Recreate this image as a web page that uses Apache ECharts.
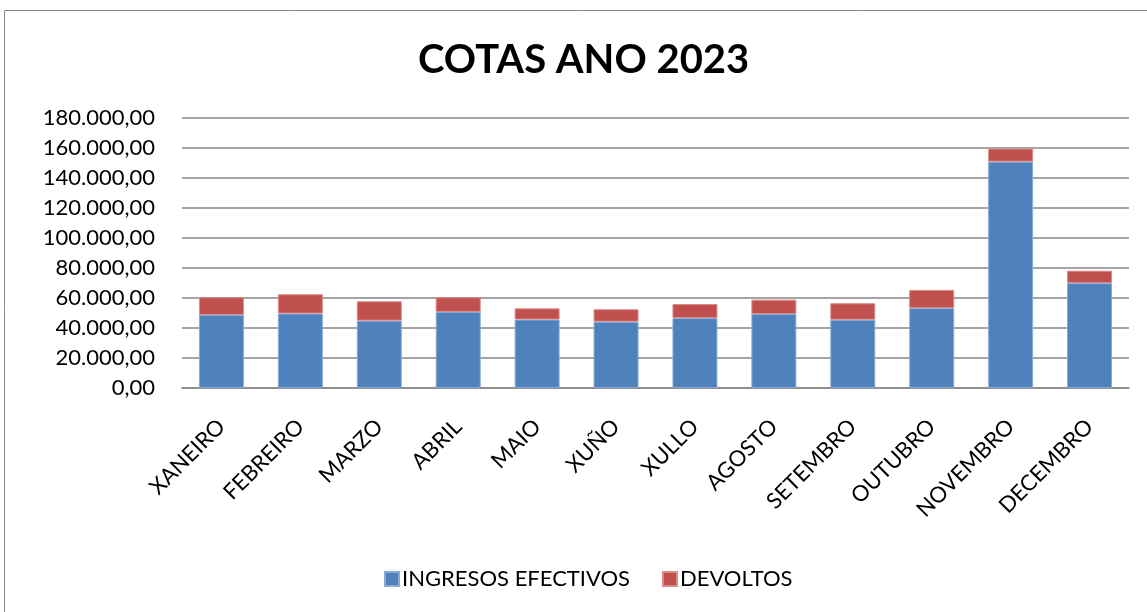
<!DOCTYPE html>
<html>
<head>
<meta charset="utf-8">
<script src="https://cdn.jsdelivr.net/npm/echarts@6/dist/echarts.min.js"></script>
<style>
html,body{margin:0;padding:0;background:#fff;}
#c{width:1147px;height:612px;}
</style>
</head>
<body>
<div id="c"></div>
<script>
const categories = ['XANEIRO','FEBREIRO','MARZO','ABRIL','MAIO','XUÑO','XULLO','AGOSTO','SETEMBRO','OUTUBRO','NOVEMBRO','DECEMBRO'];
const ingresosEfectivos = [48700, 49600, 44900, 50700, 45600, 44200, 46600, 49300, 45500, 53200, 150900, 69900];
const devoltos = [11800, 12900, 12900, 9800, 7500, 8300, 9400, 9600, 11000, 12200, 8700, 8300];
const seriesNames = ['INGRESOS EFECTIVOS', 'DEVOLTOS'];
const titleText = 'COTAS ANO 2023';

function fmt(v) {
  const s = Math.round(v).toString().replace(/\B(?=(\d{3})+(?!\d))/g, '.');
  return s + ',00';
}

const FONT = 'Lato, Carlito, "Liberation Sans", sans-serif';
const chart = echarts.init(document.getElementById('c'), null, {renderer: 'canvas'});
chart.setOption({
  animation: false,
  backgroundColor: '#ffffff',
  graphic: [{
    type: 'rect',
    shape: {x: 4.5, y: 10.5, width: 1200, height: 700},
    style: {fill: 'none', stroke: '#8a8a8a', lineWidth: 1},
    silent: true
  }],
  title: {
    text: titleText,
    left: 413,
    top: 35,
    textStyle: {fontFamily: FONT, fontWeight: 'bold', fontSize: 40, color: '#000'}
  },
  legend: {
    left: 379,
    top: 563,
    itemWidth: 14,
    itemHeight: 14,
    itemGap: 32,
    icon: 'rect',
    textStyle: {fontFamily: FONT, fontSize: 22, color: '#000', padding: [0, 0, 0, -2]},
    data: seriesNames
  },
  grid: {left: 182, right: 18, top: 118, bottom: 224, containLabel: false},
  xAxis: {
    type: 'category',
    data: categories,
    axisLine: {lineStyle: {color: '#868686', width: 1.5}},
    axisTick: {show: false},
    axisLabel: {
      rotate: 45,
      margin: 35,
      interval: 0,
      fontFamily: FONT,
      fontSize: 22,
      color: '#000'
    }
  },
  yAxis: {
    type: 'value',
    min: 0,
    max: 180000,
    interval: 20000,
    axisLine: {show: false},
    axisTick: {show: false},
    splitLine: {lineStyle: {color: '#868686', width: 1.5}},
    axisLabel: {
      formatter: fmt,
      margin: 27,
      fontFamily: FONT,
      fontSize: 22,
      color: '#000'
    }
  },
  series: [
    {
      name: seriesNames[0],
      type: 'bar',
      stack: 'total',
      data: ingresosEfectivos,
      barWidth: '57%',
      itemStyle: {color: '#4F81BD', borderColor: '#8AAAD6', borderWidth: 1}
    },
    {
      name: seriesNames[1],
      type: 'bar',
      stack: 'total',
      data: devoltos,
      barWidth: '57%',
      itemStyle: {color: '#C0504D', borderColor: '#D98B89', borderWidth: 1}
    }
  ]
});
</script>
</body>
</html>
